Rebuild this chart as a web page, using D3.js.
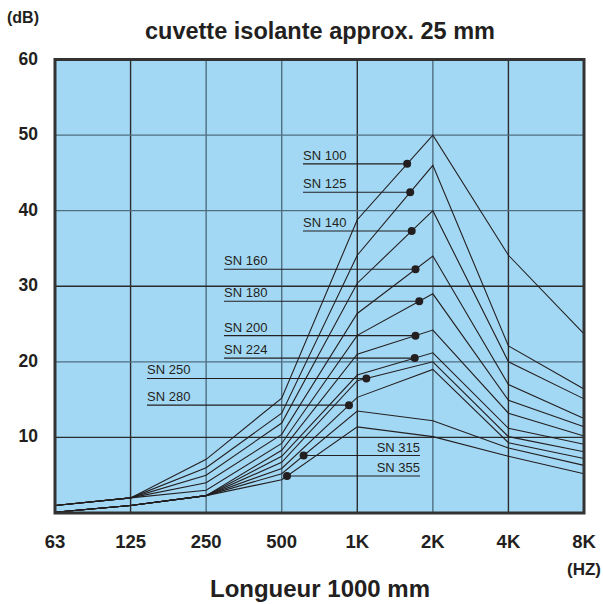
<!DOCTYPE html>
<html><head><meta charset="utf-8">
<script src="https://cdn.jsdelivr.net/npm/d3@7"></script>
<style>
html,body{margin:0;padding:0;background:#fff;}
svg{display:block;font-family:"Liberation Sans",Arial,sans-serif;}
</style></head>
<body><svg id="c" width="603" height="604"></svg>
<script>
// ---- data ----
const freqLabels = ["63","125","250","500","1K","2K","4K","8K"];
const yTicks = [10,20,30,40,50,60];
const seriesNames = ["SN 100","SN 125","SN 140","SN 160","SN 180","SN 200","SN 224","SN 250","SN 280","SN 315","SN 355"];
const sn100 = [1.0, 2.0, 7.1, 15.2, 38.8, 50.0, 34.1, 23.7];
const sn125 = [1.0, 2.0, 6.0, 13.2, 34.1, 46.0, 22.1, 16.4];
const sn140 = [1.0, 2.0, 5.0, 11.9, 30.4, 40.0, 20.0, 15.1];
const sn160 = [1.0, 2.0, 4.0, 10.4, 26.4, 34.0, 17.0, 12.5];
const sn180 = [1.0, 2.0, 3.0, 9.2, 23.5, 29.0, 14.9, 11.4];
const sn200 = [0.1, 1.0, 2.3, 8.3, 21.0, 24.2, 13.2, 10.2];
const sn224 = [0.1, 1.0, 2.3, 7.5, 18.25, 21.2, 11.2, 9.1];
const sn250 = [0.1, 1.0, 2.3, 6.7, 17.5, 20.0, 10.1, 8.1];
const sn280 = [0.1, 1.0, 2.3, 5.9, 15.3, 19.0, 9.3, 7.2];
const sn315 = [0.1, 1.0, 2.3, 5.2, 13.5, 12.2, 8.6, 6.3];
const sn355 = [0.1, 1.0, 2.3, 4.4, 11.4, 10.1, 7.5, 5.2];
// marker position along each curve (band index, 0 = 63 Hz)
const markerPos = [4.66, 4.70, 4.72, 4.77, 4.82, 4.77, 4.76, 4.12, 3.89, 3.29, 3.07];

const allSeries = [sn100,sn125,sn140,sn160,sn180,sn200,sn224,sn250,sn280,sn315,sn355];

// ---- layout ----
const L = 55, R = 584, T = 59.5, B = 513;
const labelLayout = [
  {x:303, side:"left"},{x:303, side:"left"},{x:303, side:"left"},
  {x:224, side:"left"},{x:224, side:"left"},{x:224, side:"left"},{x:224, side:"left"},
  {x:147, side:"left"},{x:147, side:"left"},
  {x:420, side:"right"},{x:420, side:"right"}
];

const svg = d3.select("#c");
const x = d3.scaleLinear().domain([0, freqLabels.length-1]).range([L, R]);
const y = d3.scaleLinear().domain([0, 60]).range([B, T]);

const ink = "#231f20";
const gridDark = "#2b2b2b", gridBlue = "#4f6e80";

svg.append("rect").attr("x",L).attr("y",T).attr("width",R-L).attr("height",B-T).attr("fill","#a3d8f4");

const vGridColor = [null, gridDark, gridBlue, gridBlue, gridDark, gridBlue, gridDark, null];
const hGridColor = {10:gridDark, 20:gridBlue, 30:gridDark, 40:gridBlue, 50:gridBlue};
svg.append("g").selectAll("line").data(d3.range(1, freqLabels.length-1)).join("line")
  .attr("x1", d=>x(d)).attr("x2", d=>x(d)).attr("y1", T).attr("y2", B)
  .attr("stroke", d=>vGridColor[d]).attr("stroke-width",1.4);
svg.append("g").selectAll("line").data(yTicks.filter(v=>v<60)).join("line")
  .attr("x1", L).attr("x2", R).attr("y1", d=>y(d)).attr("y2", d=>y(d))
  .attr("stroke", d=>hGridColor[d]).attr("stroke-width",1.4);

const line = d3.line().x((d,i)=>x(i)).y(d=>y(d));
svg.append("g").selectAll("path").data(allSeries).join("path")
  .attr("d", line).attr("fill","none").attr("stroke",ink).attr("stroke-width",1.1);

function valueAt(s, p){
  const i = Math.min(Math.floor(p), s.length-2), f = p - i;
  return s[i] + (s[i+1]-s[i])*f;
}
const lab = svg.append("g");
seriesNames.forEach((name, k)=>{
  const p = markerPos[k];
  const mx = x(p), my = y(valueAt(allSeries[k], p));
  const lay = labelLayout[k];
  const left = lay.side === "left";
  lab.append("line").attr("x1", left ? lay.x : mx).attr("x2", left ? mx : lay.x)
    .attr("y1", my).attr("y2", my).attr("stroke", ink).attr("stroke-width",1.1);
  lab.append("text").attr("x", lay.x).attr("y", my-4).attr("font-size",13)
    .attr("text-anchor", left ? "start" : "end").attr("fill", ink).text(name);
  lab.append("circle").attr("cx", mx).attr("cy", my).attr("r", 4).attr("fill", ink);
});

svg.append("rect").attr("x",L).attr("y",T).attr("width",R-L).attr("height",B-T)
  .attr("fill","none").attr("stroke","#333").attr("stroke-width",3);

svg.append("g").selectAll("text").data(yTicks).join("text")
  .attr("x", 38).attr("y", d=>y(d)+5).attr("text-anchor","end")
  .attr("font-size",17.5).attr("font-weight","bold").attr("fill",ink).text(d=>d);
svg.append("g").selectAll("text").data(freqLabels).join("text")
  .attr("x", (d,i)=>x(i)).attr("y", 548).attr("text-anchor","middle")
  .attr("font-size",18.5).attr("font-weight","bold").attr("fill",ink).text(d=>d);

svg.append("text").attr("x",7).attr("y",23).attr("font-size",16).attr("font-weight","bold").attr("fill",ink).text("(dB)");
svg.append("text").attr("x",601).attr("y",575).attr("text-anchor","end").attr("font-size",17).attr("font-weight","bold").attr("fill",ink).text("(HZ)");
svg.append("text").attr("x",320).attr("y",39).attr("text-anchor","middle").attr("font-size",23.5).attr("font-weight","bold").attr("fill",ink).text("cuvette isolante approx. 25 mm");
svg.append("text").attr("x",320).attr("y",597).attr("text-anchor","middle").attr("font-size",24).attr("font-weight","bold").attr("fill",ink).text("Longueur 1000 mm");
</script></body></html>
